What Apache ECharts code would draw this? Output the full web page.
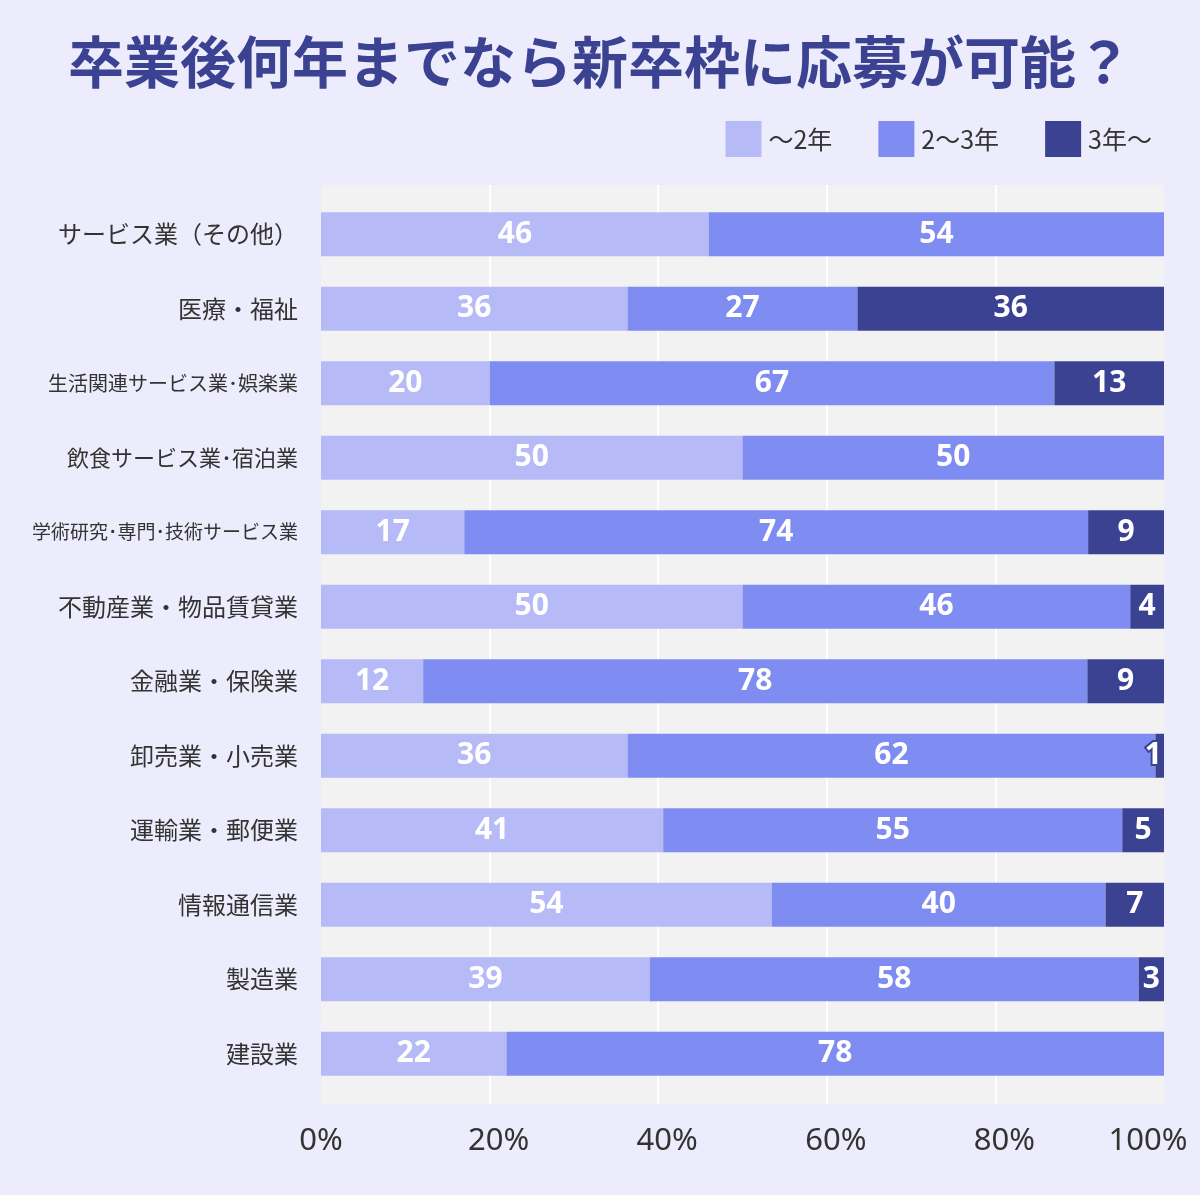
<!DOCTYPE html>
<html>
<head>
<meta charset="utf-8">
<script src="https://cdn.jsdelivr.net/npm/echarts@6/dist/echarts.min.js"></script>
<style>
  html, body { margin: 0; padding: 0; background: #ECECFC; }
  #chart { width: 1200px; height: 1195px; }
</style>
</head>
<body>
<div id="chart"></div>
<script>
// 業種（上から順）
const categories = [
  "サービス業（その他）",
  "医療・福祉",
  "生活関連サービス業･娯楽業",
  "飲食サービス業･宿泊業",
  "学術研究･専門･技術サービス業",
  "不動産業・物品賃貸業",
  "金融業・保険業",
  "卸売業・小売業",
  "運輸業・郵便業",
  "情報通信業",
  "製造業",
  "建設業"
];
const seriesNames = ["～2年", "2～3年", "3年～"];
const under2 = [46, 36, 20, 50, 17, 50, 12, 36, 41, 54, 39, 22];
const from2to3 = [54, 27, 67, 50, 74, 46, 78, 62, 55, 40, 58, 78];
const over3 = [0, 36, 13, 0, 9, 4, 9, 1, 5, 7, 3, 0];
const xTicks = [0, 20, 40, 60, 80, 100];

const colors = ["#B6BBF8", "#7F8CF1", "#3C4292"];
const font = "'Noto Sans CJK JP', 'Noto Sans', sans-serif";
const latin = "'Noto Sans', 'Noto Sans CJK JP', sans-serif";

// 表示値の合計で100%に揃える
const totals = categories.map((_, i) => under2[i] + from2to3[i] + over3[i]);
const raw = [under2, from2to3, over3];

const myChart = echarts.init(document.getElementById("chart"));

const labelStyle = {
  n: { fontSize: 24, fontFamily: font, color: "#333" },
  s22: { fontSize: 22, fontFamily: font, color: "#333" },
  s20: { fontSize: 20, fontFamily: font, color: "#333" },
  s19: { fontSize: 19, fontFamily: font, color: "#333" }
};

const tickStyle = { fontFamily: latin, fontSize: 31, color: "#333" };

const option = {
  backgroundColor: "#ECECFC",
  title: {
    text: "卒業後何年までなら新卒枠に応募が可能？",
    left: "center",
    top: 29,
    textStyle: {
      fontFamily: font,
      fontSize: 56,
      fontWeight: "bold",
      color: "#3C4292"
    }
  },
  legend: {
    right: 48,
    top: 121,
    padding: 0,
    itemWidth: 36,
    itemHeight: 36,
    itemGap: 46,
    icon: "rect",
    textStyle: { fontFamily: font, fontSize: 25, color: "#333", padding: [0, 0, 0, 2] },
    data: seriesNames
  },
  grid: [
    // 背景（灰色）
    {
      left: 321, right: 36, top: 185, bottom: 91,
      show: true, backgroundColor: "#F2F2F2", borderWidth: 0
    },
    // 棒
    { left: 321, right: 36, top: 197, bottom: 104 }
  ],
  xAxis: [
    {
      gridIndex: 0,
      type: "value",
      min: 0,
      max: 100,
      interval: 20,
      axisLine: { show: false },
      axisTick: { show: false },
      splitLine: { show: true, showMinLine: false, showMaxLine: false, lineStyle: { color: "#FFFFFF", width: 2 } },
      axisLabel: {
        formatter: (v) => {
          if (!xTicks.includes(v)) return "";
          if (v === 0) return "{a|" + v + "%}";
          if (v === 100) return "{e|" + v + "%}";
          return "{m|" + v + "%}";
        },
        rich: {
          a: tickStyle,
          m: Object.assign({ padding: [0, 0, 0, 18] }, tickStyle),
          e: Object.assign({ padding: [0, 32, 0, 0] }, tickStyle)
        },
        margin: 22
      }
    },
    {
      gridIndex: 1,
      type: "value",
      min: 0,
      max: 100,
      show: false
    }
  ],
  yAxis: [
    { gridIndex: 0, type: "value", show: false },
    {
      gridIndex: 1,
      type: "category",
      inverse: true,
      data: categories,
      axisLine: { show: false },
      axisTick: { show: false },
      axisLabel: {
        margin: 23,
        formatter: (v) => {
          const len = v.length;
          if (len >= 15) return "{s19|" + v + "}";
          if (len >= 13) return "{s20|" + v + "}";
          if (len >= 11) return "{s22|" + v + "}";
          return "{n|" + v + "}";
        },
        rich: labelStyle
      }
    }
  ],
  series: seriesNames.map((name, k) => ({
    name: name,
    type: "bar",
    stack: "total",
    xAxisIndex: 1,
    yAxisIndex: 1,
    barWidth: 44,
    itemStyle: { color: colors[k] },
    label: {
      show: true,
      position: "inside",
      offset: [0, 2],
      fontFamily: latin,
      fontSize: 30,
      fontWeight: "bold",
      color: "#FFFFFF",
      textBorderColor: colors[k],
      textBorderWidth: 4,
      formatter: (p) => raw[k][p.dataIndex] > 0 ? String(raw[k][p.dataIndex]) : ""
    },
    // 右端からはみ出すラベルは内側へ寄せる
    labelLayout: (params) => {
      const r = params.labelRect;
      const over = r.x + r.width - 1164;
      return over > 0 ? { dx: -over } : {};
    },
    data: raw[k].map((v, i) => v > 0 ? (v / totals[i]) * 100 : null)
  }))
};

option && myChart.setOption(option);
</script>
</body>
</html>
